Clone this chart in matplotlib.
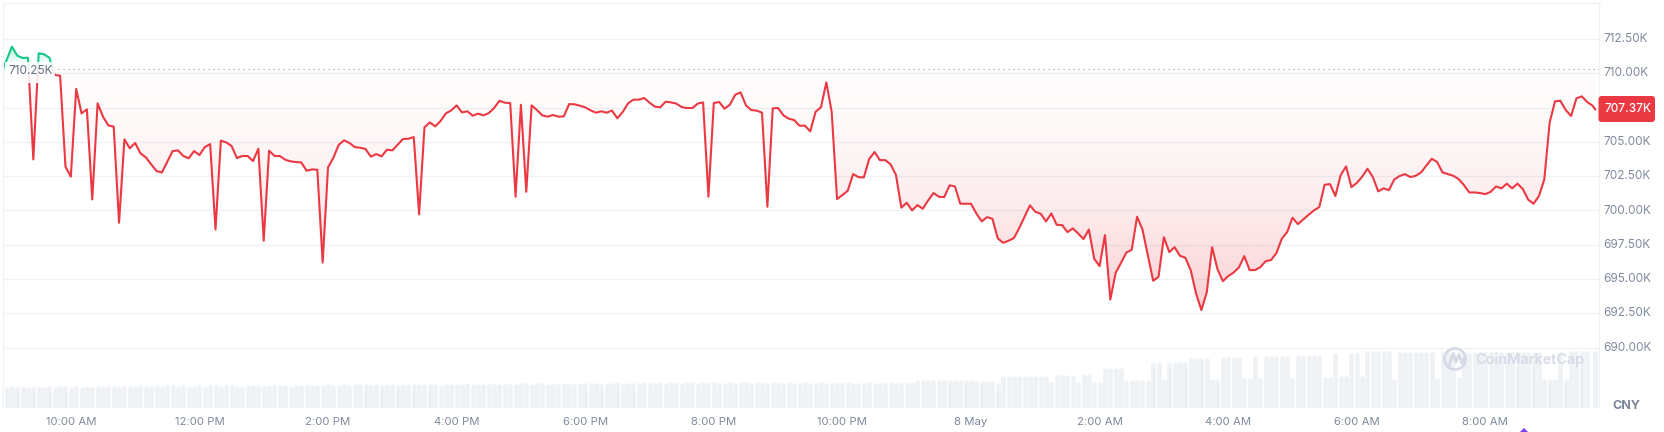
import numpy as np
import pandas as pd
import matplotlib
matplotlib.use('Agg')
import matplotlib.pyplot as plt
import matplotlib.dates as mdates
from matplotlib.patches import Circle, FancyBboxPatch, Polygon, Rectangle
from matplotlib.path import Path
from matplotlib.transforms import ScaledTranslation

plt.rcParams['font.family'] = ['Inter', 'DejaVu Sans']

# Configuration
RED = '#ea3943'
GREEN = '#16c784'
GRID = '#eff2f5'
TEXT = '#808a9d'
BAR = '#eff2f5'
BASELINE = 710.29
LATEST_LABEL = '707.37K'
BASE_LABEL = '710.25K'

START = '2023-05-07 08:55'
STEP_MIN = 5

# Price in thousands of CNY, one sample every 5 minutes
price = [
    710.05, 710.95, 711.95, 711.29, 711.12, 711.14, 703.72, 711.46, 711.39, 711.14,
    709.88, 709.83, 703.19, 702.46, 708.86, 707.08, 707.37, 700.80, 707.81, 706.84,
    706.20, 706.11, 699.10, 705.18, 704.53, 704.92, 704.16, 703.87, 703.36, 702.87,
    702.77, 703.55, 704.33, 704.38, 703.97, 703.80, 704.33, 704.04, 704.62, 704.84,
    698.61, 705.09, 704.96, 704.70, 703.82, 703.97, 703.97, 703.60, 704.50, 697.79,
    704.36, 703.97, 703.97, 703.70, 703.58, 703.53, 703.50, 702.90, 702.99, 702.97,
    696.20, 703.14, 703.84, 704.79, 705.11, 704.92, 704.62, 704.57, 704.48, 703.92,
    704.11, 703.94, 704.43, 704.38, 704.79, 705.21, 705.23, 705.35, 699.71, 706.06,
    706.42, 706.13, 706.52, 707.08, 707.30, 707.66, 707.15, 707.23, 706.91, 707.06,
    706.93, 707.10, 707.47, 708.00, 707.86, 707.83, 701.00, 707.71, 701.36, 707.66,
    707.32, 706.93, 706.84, 706.96, 706.84, 706.86, 707.76, 707.74, 707.64, 707.52,
    707.30, 707.13, 707.23, 707.13, 707.28, 706.72, 707.18, 707.81, 708.08, 708.08,
    708.20, 707.86, 707.57, 707.52, 707.93, 707.88, 707.79, 707.54, 707.47, 707.47,
    707.79, 707.88, 701.00, 707.83, 707.91, 707.42, 707.71, 708.44, 708.61, 707.66,
    707.32, 707.28, 707.13, 700.27, 707.45, 707.47, 706.93, 706.69, 706.59, 706.18,
    706.18, 705.77, 707.20, 707.52, 709.34, 707.20, 700.83, 701.12, 701.44, 702.65,
    702.43, 702.41, 703.75, 704.26, 703.67, 703.67, 703.36, 702.58, 700.20, 700.56,
    700.00, 700.39, 700.12, 700.73, 701.27, 701.00, 700.97, 701.83, 701.75, 700.49,
    700.49, 700.49, 699.78, 699.20, 699.51, 699.39, 697.96, 697.64, 697.79, 697.98,
    698.71, 699.54, 700.37, 699.90, 699.76, 699.20, 699.78, 698.95, 698.93, 698.42,
    698.69, 698.32, 697.91, 698.61, 696.47, 695.94, 698.20, 693.50, 695.45, 696.18,
    696.93, 697.13, 699.54, 698.61, 696.72, 694.87, 695.16, 698.05, 696.96, 697.32,
    696.69, 696.55, 695.65, 693.94, 692.73, 694.02, 697.32, 695.72, 694.84, 695.21,
    695.47, 695.84, 696.67, 695.65, 695.65, 695.86, 696.30, 696.38, 696.89, 697.93,
    698.42, 699.47, 699.00, 699.34, 699.68, 700.00, 700.24, 701.87, 701.92, 701.05,
    702.58, 703.21, 701.70, 702.00, 702.46, 703.04, 702.43, 701.39, 701.61, 701.48,
    702.26, 702.51, 702.65, 702.43, 702.53, 702.77, 703.28, 703.77, 703.53, 702.77,
    702.65, 702.53, 702.29, 701.85, 701.31, 701.31, 701.27, 701.19, 701.36, 701.75,
    701.61, 701.95, 701.61, 701.95, 701.56, 700.78, 700.49, 701.05, 702.26, 706.42,
    707.96, 708.00, 707.32, 706.89, 708.18, 708.32, 707.91, 707.64, 707.37,
]

# Volume, unit unknown (no axis in the picture), read as relative bar heights
volume = [
    20, 20, 21, 20, 21, 20, 20, 21, 20, 21,
    20, 21, 21, 20, 21, 20, 21, 20, 21, 21,
    21, 21, 20, 21, 21, 21, 22, 21, 21, 22,
    21, 22, 22, 21, 22, 21, 21, 22, 21, 22,
    22, 21, 22, 22, 21, 21, 22, 22, 22, 21,
    22, 22, 22, 22, 21, 22, 22, 22, 22, 22,
    22, 23, 22, 22, 23, 22, 23, 23, 23, 22,
    23, 22, 23, 23, 22, 23, 23, 23, 23, 23,
    23, 23, 22, 23, 23, 23, 23, 24, 23, 23,
    23, 24, 23, 23, 24, 23, 23, 24, 24, 23,
    24, 24, 23, 24, 23, 24, 24, 23, 24, 24,
    24, 24, 23, 24, 24, 25, 24, 24, 24, 24,
    25, 24, 24, 25, 24, 25, 24, 24, 25, 25,
    24, 25, 24, 25, 24, 24, 25, 24, 25, 25,
    24, 25, 24, 24, 25, 24, 24, 25, 24, 24,
    25, 24, 24, 25, 24, 24, 24, 24, 25, 24,
    24, 24, 25, 24, 24, 24, 25, 24, 24, 24,
    25, 27, 27, 27, 27, 27, 27, 27, 27, 27,
    27, 27, 26, 26, 26, 26, 24, 31, 31, 31,
    31, 31, 31, 31, 31, 31, 25, 32, 32, 32,
    32, 25, 33, 33, 25, 25, 39, 39, 39, 39,
    27, 27, 27, 27, 27, 45, 45, 28, 45, 45,
    45, 45, 49, 49, 49, 49, 28, 28, 50, 50,
    50, 50, 29, 29, 51, 29, 51, 51, 51, 51,
    51, 29, 52, 52, 52, 52, 52, 30, 30, 54,
    31, 31, 54, 54, 31, 56, 56, 56, 56, 56,
    28, 55, 55, 55, 55, 55, 55, 55, 29, 55,
    55, 55, 30, 55, 55, 55, 55, 55, 55, 55,
    55, 55, 55, 55, 55, 55, 55, 55, 28, 28,
    28, 55, 28, 56, 56, 56, 56, 0, 56,
]

y_ticks = [690.0, 692.5, 695.0, 697.5, 700.0, 702.5, 705.0, 707.5, 710.0, 712.5]
y_labels = ['690.00K', '692.50K', '695.00K', '697.50K', '700.00K', '702.50K', '705.00K', '', '710.00K', '712.50K']
x_ticks = ['2023-05-07 10:00', '2023-05-07 12:00', '2023-05-07 14:00', '2023-05-07 16:00',
           '2023-05-07 18:00', '2023-05-07 20:00', '2023-05-07 22:00', '2023-05-08 00:00',
           '2023-05-08 02:00', '2023-05-08 04:00', '2023-05-08 06:00', '2023-05-08 08:00']
x_labels = ['10:00 AM', '12:00 PM', '2:00 PM', '4:00 PM', '6:00 PM', '8:00 PM', '10:00 PM',
            '8 May', '2:00 AM', '4:00 AM', '6:00 AM', '8:00 AM']

W, H = 1665, 432
times = pd.date_range(START, periods=len(price), freq=f'{STEP_MIN}min')
x = mdates.date2num(times)
# last tick comes in a little before the full 5 minutes are up
x[-1] -= 2.5 / 1440
y = np.array(price)

fig = plt.figure(figsize=(W / 100, H / 100), dpi=100, facecolor='white')
rect = [3.5 / W, (H - 408) / H, 1596 / W, 405 / H]

# Volume sits in its own axes underneath the price
ax_vol = fig.add_axes(rect)
ax_vol.vlines(x, 0, volume, colors=BAR, linewidth=3.4, capstyle='round')
ax_vol.set_ylim(1, 406)
ax_vol.axis('off')

ax = fig.add_axes(rect, sharex=ax_vol)
ax.patch.set_alpha(0)
xlim = (mdates.date2num(pd.Timestamp('2023-05-07 08:57:10')),
        mdates.date2num(pd.Timestamp('2023-05-08 09:46:30')))
ylim = (685.59, 715.13)


def gradient_fill(where, color, alpha_near, alpha_far, y_far):
    # Fill between price and baseline, fading towards the baseline
    fb = ax.fill_between(x, y, BASELINE, where=where, interpolate=True, color='none', linewidth=0)
    clip = Path.make_compound_path(*fb.get_paths())
    rgba = np.zeros((256, 1, 4))
    rgba[..., :3] = matplotlib.colors.to_rgb(color)
    rgba[..., 3] = (alpha_near + (alpha_far - alpha_near) * np.linspace(1, 0, 256) ** 1.7)[:, None]
    if y_far > BASELINE:
        rgba = rgba[::-1]
    extent = (xlim[0], xlim[1], min(BASELINE, y_far), max(BASELINE, y_far))
    im = ax.imshow(rgba, extent=extent, origin='lower', aspect='auto', zorder=1)
    im.set_clip_path(clip, transform=ax.transData)


gradient_fill(y <= BASELINE, RED, 0.015, 0.24, y.min())
gradient_fill(y >= BASELINE, GREEN, 0.03, 0.32, y.max())

ax.set_xlim(*xlim)
ax.set_ylim(*ylim)

# Price line changes colour where it crosses the opening price
for color, low, high in [(RED, ylim[0], BASELINE), (GREEN, BASELINE, ylim[1])]:
    line, = ax.plot(x, y, color=color, linewidth=1.5, solid_joinstyle='round', zorder=3)
    line.set_clip_path(Rectangle((xlim[0], low), xlim[1] - xlim[0], high - low, transform=ax.transData))

ax.axhline(BASELINE, color='#8a93a6', linewidth=0.8, linestyle=(0, (1, 3.5)), zorder=2)

ax.set_yticks(y_ticks, y_labels)
ax.yaxis.tick_right()
ax.set_xticks(mdates.date2num(pd.to_datetime(x_ticks)), x_labels)
ax.tick_params(axis='y', length=0, pad=3.0, labelsize=8.5, labelcolor=TEXT)
ax.tick_params(axis='x', length=0, pad=6.5, labelsize=8.2, labelcolor=TEXT)
for label in ax.get_yticklabels():
    label.set_transform(label.get_transform() + ScaledTranslation(0, 1.0 / 72, fig.dpi_scale_trans))
ax.grid(True, axis='y', color=GRID, linewidth=0.9)
ax.set_axisbelow(True)
for side in ['top', 'left', 'right']:
    ax.spines[side].set_color(GRID)
    ax.spines[side].set_linewidth(0.9)
ax.spines['bottom'].set_visible(False)

# Overlay in picture pixels for labels and the watermark
over = fig.add_axes([0, 0, 1, 1])
over.set_xlim(0, W)
over.set_ylim(H, 0)
over.axis('off')
over.patch.set_alpha(0)

over.add_patch(Rectangle((5, 62), 50, 21, facecolor='white', edgecolor='none', alpha=0.88))
over.text(31, 71, BASE_LABEL, ha='center', va='center', fontsize=8.5, color='#616e85')

over.add_patch(FancyBboxPatch((1600.5, 98), 52.5, 22, boxstyle='round,pad=2,rounding_size=3',
                              facecolor=RED, edgecolor='none'))
over.text(1605, 109, LATEST_LABEL, ha='left', va='center', fontsize=8.5, color='white', fontweight='medium')
over.text(1612, 406, 'CNY', ha='left', va='center', fontsize=9, color='#7a8499', fontweight='bold')

# CoinMarketCap watermark
WM = '#d5dae6'
over.add_patch(Circle((1455, 359), 10.5, facecolor='none', edgecolor=WM, linewidth=2))
over.plot([1449, 1453, 1456, 1459, 1461.5, 1465], [366, 353.5, 362, 354, 363, 357], color=WM, linewidth=2,
          solid_joinstyle='round', solid_capstyle='round')
over.text(1475, 360, 'CoinMarketCap', ha='left', va='center', fontsize=10.4, color=WM, fontweight='semibold')

over.add_patch(Polygon([(1524, 428), (1520, 432), (1528, 432)], closed=True, facecolor='#7b3ff2', edgecolor='none'))

fig.savefig('out.png', dpi=100)
